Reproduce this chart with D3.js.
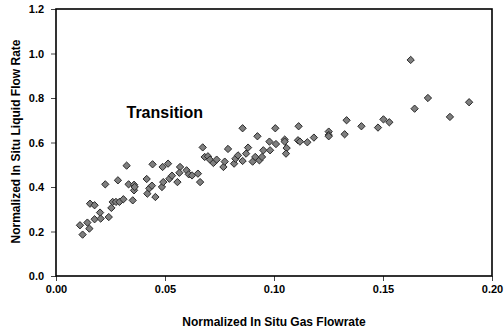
<!DOCTYPE html>
<meta charset="utf-8">
<script src="https://d3js.org/d3.v7.min.js"></script>
<style>
  body { margin: 0; background: #fff; }
  text { font-family: "Liberation Sans", Arial, sans-serif; font-weight: bold; }
</style>
<div id="chart"></div>
<script>

// gas flowrate (x) and liquid flow rate (y)
var gasFlow = [0.0110, 0.0122, 0.0144, 0.0153, 0.0156, 0.0177, 0.0177, 0.0202, 0.0205, 0.0226,
               0.0242, 0.0254, 0.0260, 0.0275, 0.0284, 0.0291, 0.0309, 0.0324, 0.0333, 0.0352,
               0.0358, 0.0358, 0.0361, 0.0416, 0.0419, 0.0428, 0.0440, 0.0443, 0.0456, 0.0486,
               0.0489, 0.0492, 0.0514, 0.0520, 0.0532, 0.0557, 0.0569, 0.0566, 0.0599, 0.0609,
               0.0624, 0.0651, 0.0661, 0.0673, 0.0682, 0.0697, 0.0706, 0.0722, 0.0737, 0.0768,
               0.0774, 0.0789, 0.0817, 0.0823, 0.0835, 0.0856, 0.0856, 0.0872, 0.0881, 0.0902,
               0.0914, 0.0924, 0.0933, 0.0945, 0.0951, 0.0979, 0.0982, 0.1006, 0.1009, 0.1049,
               0.1049, 0.1058, 0.1055, 0.1113, 0.1110, 0.1119, 0.1153, 0.1183, 0.1251, 0.1251,
               0.1251, 0.1324, 0.1333, 0.1401, 0.1477, 0.1502, 0.1529, 0.1627, 0.1645, 0.1706,
               0.1807, 0.1895];
var liquidFlow = [0.228, 0.186, 0.240, 0.213, 0.325, 0.318, 0.255, 0.285, 0.258, 0.412,
                  0.265, 0.306, 0.333, 0.333, 0.430, 0.333, 0.345, 0.496, 0.412, 0.340,
                  0.410, 0.385, 0.400, 0.436, 0.370, 0.394, 0.406, 0.502, 0.355, 0.400,
                  0.490, 0.422, 0.505, 0.437, 0.451, 0.422, 0.490, 0.464, 0.475, 0.457,
                  0.452, 0.460, 0.422, 0.578, 0.535, 0.538, 0.523, 0.508, 0.523, 0.490,
                  0.514, 0.571, 0.505, 0.527, 0.542, 0.664, 0.517, 0.550, 0.577, 0.514,
                  0.535, 0.628, 0.520, 0.535, 0.565, 0.604, 0.565, 0.664, 0.593, 0.613,
                  0.604, 0.575, 0.550, 0.673, 0.610, 0.604, 0.601, 0.622, 0.649, 0.634,
                  0.628, 0.637, 0.700, 0.673, 0.667, 0.704, 0.691, 0.971, 0.752, 0.800,
                  0.715, 0.781];
var xTicks = [0, 0.05, 0.10, 0.15, 0.20];
var yTicks = [0, 0.2, 0.4, 0.6, 0.8, 1.0, 1.2];

var margin = {top: 9, right: 12, bottom: 59, left: 56},
    width = 504 - margin.left - margin.right,
    height = 335 - margin.top - margin.bottom;

var svg = d3.select("#chart")
  .append("svg")
    .attr("width", 504)
    .attr("height", 335)
  .append("g")
    .attr("transform", "translate(" + margin.left + "," + margin.top + ")");

var x = d3.scaleLinear().domain([0, 0.2]).range([0, width]);
var y = d3.scaleLinear().domain([0, 1.2]).range([height, 0]);

// x axis
var xAxis = svg.append("g")
  .attr("transform", "translate(0," + height + ")")
  .call(d3.axisBottom(x).tickValues(xTicks).tickFormat(d3.format(".2f")).tickSize(5).tickSizeOuter(0));
xAxis.selectAll("text").attr("dy", "0.85em").style("font-size", "11px").attr("fill", "#000");

// y axis
var yAxis = svg.append("g")
  .call(d3.axisLeft(y).tickValues(yTicks).tickFormat(d3.format(".1f")).tickSize(5).tickSizeOuter(0));
yAxis.selectAll("text").attr("dx", "-0.35em").style("font-size", "11px").attr("fill", "#000");

svg.selectAll(".domain").remove();
svg.selectAll(".tick line").attr("stroke", "#444");

// frame
svg.append("rect")
  .attr("width", width)
  .attr("height", height)
  .attr("fill", "none")
  .attr("stroke", "#000")
  .attr("stroke-width", 1.6);

// points
var diamond = d3.symbol().type(d3.symbolDiamond2).size(34);
svg.append("g")
  .selectAll("path")
  .data(d3.range(gasFlow.length))
  .enter()
  .append("path")
    .attr("d", diamond)
    .attr("transform", i => "translate(" + x(gasFlow[i]) + "," + y(liquidFlow[i]) + ")")
    .attr("fill", "#7f7f7f")
    .attr("stroke", "#2a2a2a")
    .attr("stroke-width", 1);

// annotation
svg.append("text")
  .attr("x", 70.5)
  .attr("y", 108.5)
  .style("font-size", "16px")
  .text("Transition");

// axis labels
svg.append("text")
  .attr("text-anchor", "middle")
  .attr("x", width / 2)
  .attr("y", height + 50)
  .style("font-size", "12px")
  .text("Normalized In Situ Gas Flowrate");

svg.append("text")
  .attr("text-anchor", "middle")
  .attr("transform", "rotate(-90)")
  .attr("x", -132.5)
  .attr("y", -36.5)
  .style("font-size", "12px")
  .text("Normalized In Situ Liquid Flow Rate");

</script>
